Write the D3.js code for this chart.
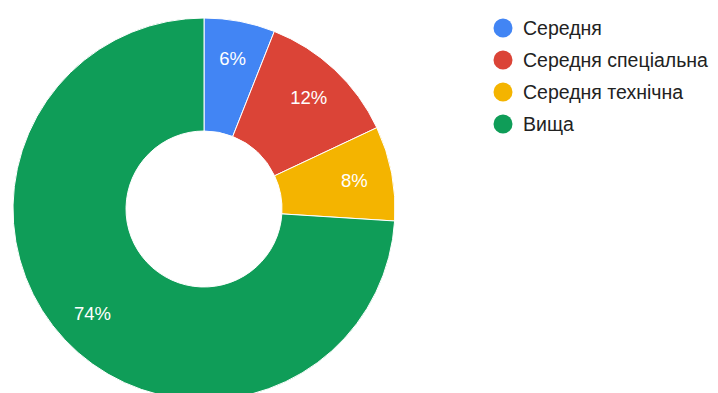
<!DOCTYPE html>
<html>
<head>
<meta charset="utf-8">
<script src="https://cdn.jsdelivr.net/npm/d3@7"></script>
<style>
  html, body { margin: 0; padding: 0; background: #fff; }
  svg { display: block; font-family: "Liberation Sans", Arial, sans-serif; }
</style>
</head>
<body>
<svg id="chart" width="718" height="393"></svg>
<script>
// Education level breakdown (percent of respondents)
const categories = ["Середня", "Середня спеціальна", "Середня технічна", "Вища"];
const values = [6, 12, 8, 74];
const colors = ["#4285f4", "#db4437", "#f4b400", "#0f9d58"];

const svg = d3.select("#chart");
const cx = 204, cy = 209, outerR = 191, innerR = 78, labelR = 153;

const total = d3.sum(values);
const pie = d3.pie().sort(null).value(d => d.value);
const arcs = pie(categories.map((c, i) => ({ name: c, value: values[i], color: colors[i] })));

const arc = d3.arc().innerRadius(innerR).outerRadius(outerR);
const labelArc = d3.arc().innerRadius(labelR).outerRadius(labelR);

const g = svg.append("g").attr("transform", `translate(${cx},${cy})`);

g.selectAll("path.slice")
  .data(arcs)
  .join("path")
  .attr("class", "slice")
  .attr("d", arc)
  .attr("fill", d => d.data.color)
  .attr("stroke", "#fff")
  .attr("stroke-width", 1);

g.selectAll("text.pct")
  .data(arcs)
  .join("text")
  .attr("class", "pct")
  .attr("transform", d => `translate(${labelArc.centroid(d)})`)
  .attr("text-anchor", "middle")
  .attr("dominant-baseline", "central")
  .attr("fill", "#fff")
  .attr("font-size", 18.5)
  .text(d => Math.round(d.data.value / total * 100) + "%");

// Legend
const legend = svg.append("g").attr("transform", "translate(503,28)");
const rowH = 32;
const item = legend.selectAll("g.item")
  .data(categories)
  .join("g")
  .attr("class", "item")
  .attr("transform", (d, i) => `translate(0,${i * rowH})`);

item.append("circle")
  .attr("r", 9.5)
  .attr("fill", (d, i) => colors[i]);

item.append("text")
  .attr("x", 20)
  .attr("dominant-baseline", "central")
  .attr("font-size", 19.5)
  .attr("fill", "#222")
  .text(d => d);
</script>
</body>
</html>
